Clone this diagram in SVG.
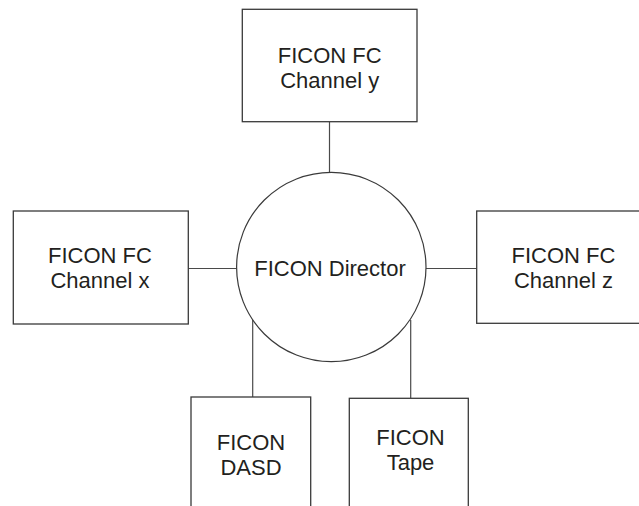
<svg xmlns="http://www.w3.org/2000/svg" width="639" height="506" viewBox="0 0 639 506">
<style>
.box{fill:#fff;stroke:#3a3a3a;stroke-width:1.3}
.conn{stroke:#4a4a4a;stroke-width:1.2;fill:none}
text{font-family:"Liberation Sans",Arial,sans-serif;font-size:22px;fill:#231f20;text-anchor:middle}
</style>
<rect width="639" height="506" fill="#fff"/>
<g id="connectors">
<line class="conn" x1="329.5" y1="121.7" x2="329.5" y2="172.5"/>
<line class="conn" x1="188.3" y1="268.5" x2="236.7" y2="268.5"/>
<line class="conn" x1="426" y1="268.5" x2="476.7" y2="268.5"/>
<line class="conn" x1="252.7" y1="320" x2="252.7" y2="397"/>
<line class="conn" x1="410.7" y1="320" x2="410.7" y2="398.3"/>
</g>
<g id="director">
<circle cx="331.3" cy="267" r="94.7" fill="#fff" stroke="#3a3a3a" stroke-width="1.2"/>
<text x="330" y="276">FICON Director</text>
</g>
<g id="channel-y">
<rect class="box" x="242.3" y="9.3" width="174.7" height="112.4"/>
<text x="329.7" y="63.2">FICON FC</text>
<text x="329.7" y="88">Channel y</text>
</g>
<g id="channel-x">
<rect class="box" x="13.3" y="211" width="175" height="113"/>
<text x="100" y="263.2">FICON FC</text>
<text x="100" y="288">Channel x</text>
</g>
<g id="channel-z">
<rect class="box" x="476.7" y="211" width="175" height="112.3"/>
<text x="563.5" y="263.2">FICON FC</text>
<text x="563.5" y="288">Channel z</text>
</g>
<g id="dasd">
<rect class="box" x="191" y="397" width="119.7" height="130"/>
<text x="251" y="449.5">FICON</text>
<text x="251" y="474.5">DASD</text>
</g>
<g id="tape">
<rect class="box" x="349.3" y="398.3" width="119" height="130"/>
<text x="410.5" y="444.5">FICON</text>
<text x="410.5" y="469.5">Tape</text>
</g>
</svg>
